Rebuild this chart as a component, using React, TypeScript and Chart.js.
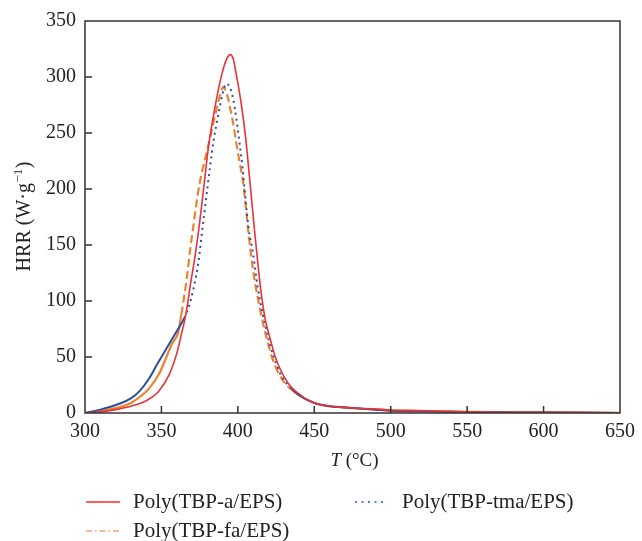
import React, { useEffect, useRef } from 'react';
import { Chart, registerables } from 'chart.js';

Chart.register(...registerables);

const FONT = '"Liberation Serif", "DejaVu Serif", serif';

// ---- data ----
const seriesLabels = ['Poly(TBP-a/EPS)', 'Poly(TBP-tma/EPS)', 'Poly(TBP-fa/EPS)'];

const redT = [300, 310, 320, 330, 340, 348, 355, 360, 363, 366, 369, 372, 375, 378, 381, 384, 387, 390, 393, 395, 397, 399, 402, 405, 408, 411, 415, 418, 420, 425, 430, 435, 440, 445, 450, 460, 470, 480, 490, 500, 520, 550, 600, 650];
const redHRR = [0, 1, 3, 6, 11, 19, 34, 53, 70, 88, 115, 140, 170, 205, 240, 265, 287, 305, 317, 320, 316, 302, 278, 247, 205, 162, 110, 83, 72, 48, 33, 23, 17, 12, 9, 6, 5, 4, 3.5, 2.5, 2, 1, 0.6, 0.2];

const blueT = [300, 310, 322, 330, 336, 342, 347, 353, 360, 365, 369, 374, 376, 378, 380, 382, 384, 386, 388, 390, 392.5, 395, 397, 399, 401, 403, 405, 407, 410, 413, 418, 423, 429, 435, 440, 450, 460, 470, 480, 490, 500, 520, 550, 600, 650];
const blueHRR = [0, 3, 8, 13, 20, 31, 43, 57, 73, 85, 100, 133, 155, 178, 200, 222, 242, 258, 272, 285, 294, 290, 280, 263, 242, 220, 191, 165, 142, 112, 78, 52, 32, 22, 16, 9, 6, 5, 4, 3, 2, 1.5, 0.8, 0.4, 0.1];

const orangeT = [300, 310, 322, 330, 336, 342, 348.5, 357, 361, 363, 365, 367, 369, 371, 373, 375, 377, 380, 383, 386, 388, 390.5, 393, 395, 397, 399, 401, 403, 405, 407, 410, 413, 417, 423, 429, 435, 440, 450, 460, 470, 480, 490, 500, 520, 550, 600, 650];
const orangeHRR = [0, 1.5, 5, 9, 14.5, 22, 35, 62, 72, 88, 105, 125, 148, 168, 188, 205, 218, 235, 253, 271, 282, 291, 284, 272, 258, 241, 225, 210, 187, 160, 127, 103, 77, 47, 30, 21, 16, 9, 6, 5, 4, 3.5, 2.5, 2, 1, 0.6, 0.2];

const xTicks = [300, 350, 400, 450, 500, 550, 600, 650];
const yTicks = [0, 50, 100, 150, 200, 250, 300, 350];

const xTitleItalic = 'T';
const xTitleRest = ' (°C)';
const yTitleMain = 'HRR (W·g';
const yTitleSup = '−1';
const yTitleEnd = ')';

// ---- styles ----
const colors = ['#e8323a', '#2b4f9e', '#ea8330'];
const legendColors = ['#ff2a2a', '#2b57b0', '#f2a274'];
const legendDash = [[], [2, 4.5], [6, 3, 1.5, 3]];
const legendPos = [
  { x: 86, y: 502, len: 34 },
  { x: 355, y: 502, len: 31 },
  { x: 86, y: 531, len: 34 },
];

function toPoints(t: number[], v: number[]) {
  return t.map((x, i) => ({ x, y: v[i] }));
}

function segDash(dash: number[], peakX: number, leftLimit: number, rightLimit: number) {
  return (ctx: any) => {
    const p = ctx.p0.parsed;
    const lim = p.x < peakX ? leftLimit : rightLimit;
    return p.y > lim ? dash : [];
  };
}

const framePlugin = {
  id: 'framePlugin',
  afterDraw(chart: any) {
    const { ctx, chartArea: a, scales } = chart;
    const xs = scales.x;
    const ys = scales.y;
    ctx.save();
    ctx.strokeStyle = '#333';
    ctx.lineWidth = 1.5;
    ctx.setLineDash([]);
    ctx.strokeRect(a.left, a.top, a.right - a.left, a.bottom - a.top);
    // inward ticks
    ctx.beginPath();
    xTicks.forEach((v) => {
      const px = xs.getPixelForValue(v);
      if (Math.abs(px - a.left) < 2 || Math.abs(px - a.right) < 2) return;
      ctx.moveTo(px, a.bottom);
      ctx.lineTo(px, a.bottom - 7);
    });
    yTicks.forEach((v) => {
      const py = ys.getPixelForValue(v);
      if (Math.abs(py - a.top) < 2 || Math.abs(py - a.bottom) < 2) return;
      ctx.moveTo(a.left, py);
      ctx.lineTo(a.left + 7, py);
    });
    ctx.stroke();

    // axis titles
    ctx.fillStyle = '#222';
    ctx.textBaseline = 'alphabetic';
    ctx.textAlign = 'left';
    const cx = (a.left + a.right) / 2;
    ctx.font = `italic 19px ${FONT}`;
    const wT = ctx.measureText(xTitleItalic).width;
    ctx.font = `19px ${FONT}`;
    const wR = ctx.measureText(xTitleRest).width;
    const sx = cx - (wT + wR) / 2 + 2;
    ctx.font = `italic 19px ${FONT}`;
    ctx.fillText(xTitleItalic, sx, 466);
    ctx.font = `19px ${FONT}`;
    ctx.fillText(xTitleRest, sx + wT, 466);

    // y title rotated
    const cy = (a.top + a.bottom) / 2;
    ctx.save();
    ctx.translate(30, cy);
    ctx.rotate(-Math.PI / 2);
    ctx.font = `20px ${FONT}`;
    const w1 = ctx.measureText(yTitleMain).width;
    const w3 = ctx.measureText(yTitleEnd).width;
    ctx.font = `13px ${FONT}`;
    const w2 = ctx.measureText(yTitleSup).width;
    let tx = -(w1 + w2 + w3) / 2;
    ctx.font = `20px ${FONT}`;
    ctx.fillText(yTitleMain, tx, 0);
    tx += w1;
    ctx.font = `13px ${FONT}`;
    ctx.fillText(yTitleSup, tx + 0.5, -8);
    tx += w2 + 1;
    ctx.font = `20px ${FONT}`;
    ctx.fillText(yTitleEnd, tx, 0);
    ctx.restore();

    // legend
    chart.data.datasets.forEach((ds: any, i: number) => {
      const p = legendPos[i];
      ctx.save();
      ctx.strokeStyle = legendColors[i];
      ctx.lineWidth = 1.5;
      ctx.setLineDash(legendDash[i]);
      ctx.beginPath();
      ctx.moveTo(p.x, p.y);
      ctx.lineTo(p.x + p.len, p.y);
      ctx.stroke();
      ctx.restore();
      ctx.fillStyle = '#222';
      ctx.font = `21px ${FONT}`;
      ctx.textBaseline = 'middle';
      ctx.fillText(ds.label, p.x + 47, p.y + 0.5);
    });
    ctx.restore();
  },
};

export default function App() {
  const ref = useRef<HTMLCanvasElement | null>(null);

  useEffect(() => {
    if (!ref.current) return;
    const chart = new Chart(ref.current, {
      type: 'line',
      data: {
        datasets: [
          {
            label: seriesLabels[0],
            data: toPoints(redT, redHRR),
            borderColor: colors[0],
            borderWidth: 1.6,
            pointRadius: 0,
            cubicInterpolationMode: 'monotone',
            fill: false,
          },
          {
            label: seriesLabels[1],
            data: toPoints(blueT, blueHRR),
            borderColor: colors[1],
            borderWidth: 2,
            pointRadius: 0,
            cubicInterpolationMode: 'monotone',
            fill: false,
            segment: { borderDash: segDash([2, 4], 392.5, 80, 28) },
          },
          {
            label: seriesLabels[2],
            data: toPoints(orangeT, orangeHRR),
            borderColor: colors[2],
            borderWidth: 2.2,
            pointRadius: 0,
            cubicInterpolationMode: 'monotone',
            fill: false,
            segment: { borderDash: segDash([8, 4], 390.5, 80, 28) },
          },
        ],
      },
      options: {
        animation: false,
        responsive: false,
        maintainAspectRatio: false,
        layout: { padding: { left: 0, right: 16, top: 19, bottom: 0 } },
        plugins: { legend: { display: false }, tooltip: { enabled: false } },
        scales: {
          x: {
            type: 'linear',
            min: 300,
            max: 650,
            grid: { display: false, drawTicks: false },
            border: { display: false },
            ticks: {
              stepSize: 50,
              padding: 7,
              color: '#222',
              font: { family: FONT, size: 20 },
              maxRotation: 0,
            },
            afterFit: (s: any) => {
              s.height = 128;
            },
          },
          y: {
            type: 'linear',
            min: 0,
            max: 350,
            grid: { display: false, drawTicks: false },
            border: { display: false },
            ticks: {
              stepSize: 50,
              padding: 9,
              color: '#222',
              font: { family: FONT, size: 20 },
            },
            afterFit: (s: any) => {
              s.width = 85;
            },
          },
        },
      },
      plugins: [framePlugin],
    });
    return () => chart.destroy();
  }, []);

  return (
    <div style={{ position: 'absolute', left: 0, top: 0, width: 642, height: 541, background: '#fff' }}>
      <canvas ref={ref} width={642} height={541} style={{ display: 'block', width: 642, height: 541 }} />
    </div>
  );
}
